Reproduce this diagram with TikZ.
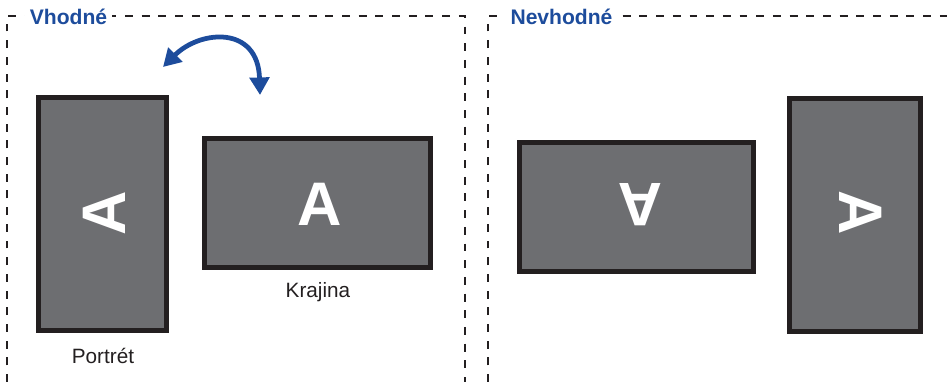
\documentclass[tikz,border=0pt]{standalone}
\usepackage{fontspec}
\setmainfont{Liberation Sans}
\usetikzlibrary{arrows.meta}
\definecolor{screengray}{HTML}{6D6E71}
\definecolor{rimblack}{HTML}{231F20}
\definecolor{okblue}{HTML}{1D4C9C}
\tikzset{
	frame/.style={line width=0.4mm, color=rimblack, dash pattern=on 4.5pt off 5pt},
	screen/.style={draw=rimblack, fill=screengray, line width=1mm, inner sep=0pt},
	letter/.style={text=white, font=\fontsize{35}{35}\selectfont\bfseries, inner sep=0pt},
	caption/.style={font=\fontsize{11.8}{12}\selectfont, color=rimblack, anchor=base},
	heading/.style={font=\fontsize{12}{12}\selectfont\bfseries, text=okblue, fill=white, inner sep=3pt, anchor=base}
}

\begin{document}
\begin{tikzpicture}[x=0.02cm, y=-0.02cm]
			%%%%% START %%%%%
			\useasboundingbox (0, 0) rectangle (947, 382);
			
			\draw[frame] (7, 382) -- (7, 16) -- (465, 16) -- (465, 382);
			\draw[frame] (488, 382) -- (488, 16) -- (947, 16);
			
			\node[heading] (vhodne) at (68.5, 25) {Vhodné};
			\node[heading] (nevhodne) at (561.5, 25) {Nevhodné};
			
			\node[screen, minimum width=2.56cm, minimum height=4.66cm] (portret) at (102.5, 214) {};
			\node[letter, rotate=90] (portretA) at (104.5, 213.5) {A};
			\node[caption] (portretLbl) at (103, 363) {Portrét};
			
			\node[screen, minimum width=4.52cm, minimum height=2.58cm] (krajina) at (317.5, 203) {};
			\node[letter] (krajinaA) at (320, 204) {A};
			\node[caption] (krajinaLbl) at (318, 297) {Krajina};
			
			\draw[line width=0.95mm, color=okblue, {Triangle[length=10pt, width=11pt]}-{Triangle[length=10pt, width=11pt]}]
				(163, 67) .. controls (200, 30) and (258, 25) .. (260, 95);
			
			\node[screen, minimum width=4.68cm, minimum height=2.58cm] (obracena) at (636.5, 207) {};
			\node[letter, rotate=180] (obracenaA) at (640, 204.5) {A};
			
			\node[screen, minimum width=2.62cm, minimum height=4.66cm] (bokem) at (855, 215) {};
			\node[letter, rotate=-90] (bokemA) at (860.5, 212.5) {A};
			
			%%%%% END %%%%%
\end{tikzpicture}
\end{document}
